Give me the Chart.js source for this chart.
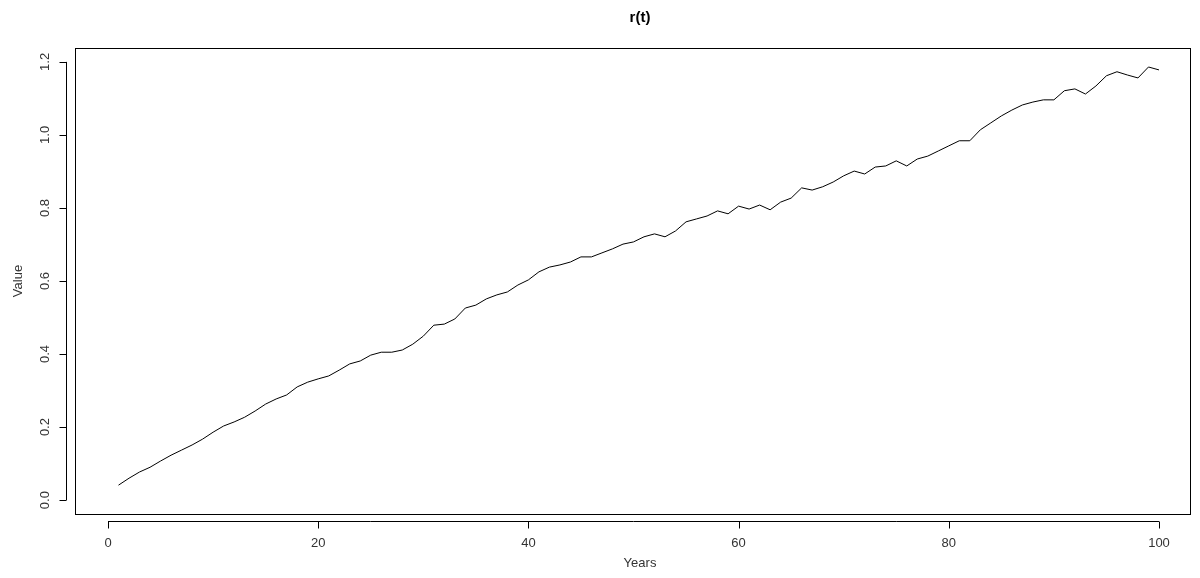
<!DOCTYPE html>
<html><head><meta charset="utf-8">
<script src="https://cdn.jsdelivr.net/npm/chart.js@4"></script>
<style>body{margin:0;background:#fff}#c{display:block}</style>
</head><body>
<div style="width:1200px;height:578px"><canvas id="c"></canvas></div>
<script>
const years = Array.from({length: 100}, (_, i) => i + 1)
const values = [
  0.041,0.060,0.077,0.090,0.107,0.123,0.137,0.151,0.167,0.186,
  0.203,0.214,0.227,0.244,0.263,0.277,0.288,0.310,0.323,0.332,
  0.340,0.356,0.373,0.381,0.397,0.405,0.405,0.411,0.427,0.449,
  0.479,0.482,0.496,0.526,0.534,0.551,0.562,0.570,0.589,0.603,
  0.625,0.638,0.644,0.652,0.666,0.666,0.677,0.688,0.701,0.707,
  0.721,0.729,0.721,0.737,0.762,0.770,0.778,0.792,0.784,0.805,
  0.797,0.808,0.795,0.816,0.827,0.855,0.849,0.858,0.871,0.888,
  0.901,0.893,0.912,0.915,0.929,0.915,0.934,0.942,0.956,0.970,
  0.984,0.984,1.014,1.033,1.052,1.068,1.082,1.090,1.096,1.096,
  1.121,1.126,1.112,1.134,1.162,1.173,1.164,1.156,1.186,1.178
]
const xTicks = [0, 20, 40, 60, 80, 100]
const yTicks = [0, 0.2, 0.4, 0.6, 0.8, 1.0, 1.2]
const font = '"Liberation Sans", Arial, sans-serif'

// base-graphics style frame, axes and labels
const rAxes = {
  id: 'rAxes',
  afterDraw(chart) {
    const {ctx, chartArea: a, scales: {x, y}} = chart
    ctx.save()
    ctx.strokeStyle = '#000'
    ctx.fillStyle = '#000'
    ctx.lineWidth = 1
    ctx.strokeRect(a.left + 0.5, a.top + 0.5, a.right - a.left, a.bottom - a.top)
    // x axis
    const ax = a.bottom + 7.5
    ctx.beginPath()
    ctx.moveTo(x.getPixelForValue(0), ax)
    ctx.lineTo(x.getPixelForValue(100), ax)
    xTicks.forEach(t => {
      const px = Math.round(x.getPixelForValue(t)) + 0.5
      ctx.moveTo(px, ax); ctx.lineTo(px, ax + 7)
    })
    ctx.stroke()
    ctx.font = '13px ' + font
    ctx.fillStyle = '#333'
    ctx.textAlign = 'center'
    ctx.textBaseline = 'middle'
    xTicks.forEach(t => ctx.fillText(String(t), x.getPixelForValue(t), 543))
    // y axis
    const ay = a.left - 8.5
    ctx.beginPath()
    ctx.moveTo(ay, y.getPixelForValue(0))
    ctx.lineTo(ay, y.getPixelForValue(1.2))
    yTicks.forEach(t => {
      const py = Math.round(y.getPixelForValue(t)) + 0.5
      ctx.moveTo(ay, py); ctx.lineTo(ay - 7, py)
    })
    ctx.stroke()
    yTicks.forEach(t => {
      ctx.save()
      ctx.translate(45, y.getPixelForValue(t))
      ctx.rotate(-Math.PI / 2)
      ctx.fillText(t.toFixed(1), 0, 0)
      ctx.restore()
    })
    ctx.fillText('Years', 640, 563)
    ctx.save()
    ctx.translate(18, 281)
    ctx.rotate(-Math.PI / 2)
    ctx.fillText('Value', 0, 0)
    ctx.restore()
    ctx.fillStyle = '#000'
    ctx.font = 'bold 15px ' + font
    ctx.fillText('r(t)', 640, 18)
    ctx.restore()
  }
}

new Chart('c', {
  type: 'line',
  data: {
    labels: years,
    datasets: [{
      data: values,
      borderColor: '#000',
      borderWidth: 1,
      pointRadius: 0,
      tension: 0
    }]
  },
  options: {
    responsive: true,
    maintainAspectRatio: false,
    animation: false,
    layout: {padding: {left: 75, right: 10, top: 48, bottom: 64}},
    plugins: {legend: {display: false}, tooltip: {enabled: false}},
    scales: {
      x: {type: 'linear', min: -3.14, max: 102.95, display: false},
      y: {min: -0.038, max: 1.238, display: false}
    }
  },
  plugins: [rAxes]
})
</script>
</body></html>
